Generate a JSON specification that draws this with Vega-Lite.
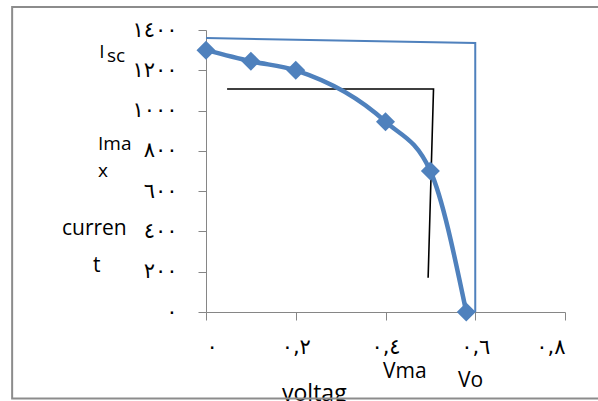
{
  "$schema": "https://vega.github.io/schema/vega-lite/v6.json",
  "width": 359,
  "height": 282,
  "autosize": {"type": "none"},
  "padding": {"left": 206, "top": 30, "right": 33, "bottom": 89},
  "background": "white",
  "config": {
    "view": {"stroke": null},
    "axis": {
      "grid": false,
      "domainColor": "#868686",
      "tickColor": "#868686",
      "tickSize": 8,
      "labelFont": "DejaVu Sans",
      "labelFontSize": 21,
      "labelColor": "#000000",
      "title": null
    }
  },
  "datasets": {
    "curve": [
      {"voltage": 0.0, "current": 1300},
      {"voltage": 0.1, "current": 1245},
      {"voltage": 0.2, "current": 1200},
      {"voltage": 0.4, "current": 945},
      {"voltage": 0.5, "current": 700},
      {"voltage": 0.58, "current": 0}
    ],
    "isc_voc": [
      {"step": 1, "voltage": 0.0, "current": 1360},
      {"step": 2, "voltage": 0.6, "current": 1336},
      {"step": 3, "voltage": 0.6, "current": 0}
    ],
    "max_power": [
      {"step": 1, "voltage": 0.047, "current": 1107},
      {"step": 2, "voltage": 0.507, "current": 1107},
      {"step": 3, "voltage": 0.495, "current": 170}
    ],
    "frame": [
      {"voltage": -0.432, "voltage_end": 0.95, "current": 1514, "current_end": -429}
    ],
    "notes_small": [
      {"text": "I", "voltage": -0.238, "current": 1259},
      {"text": "sc", "voltage": -0.2206, "current": 1241},
      {"text": "Ima", "voltage": -0.2407, "current": 804},
      {"text": "x", "voltage": -0.2407, "current": 670}
    ],
    "notes_large": [
      {"text": "curren", "voltage": -0.321, "current": 382},
      {"text": "t", "voltage": -0.2518, "current": 199},
      {"text": "Vma", "voltage": 0.3944, "current": -328},
      {"text": "Vo", "voltage": 0.5616, "current": -372}
    ],
    "notes_axis": [
      {"text": "voltag", "voltage": 0.1694, "current": -440}
    ]
  },
  "encoding": {
    "x": {
      "field": "voltage", "type": "quantitative",
      "scale": {"domain": [0, 0.8], "nice": false},
      "axis": {
        "values": [0, 0.2, 0.4, 0.6, 0.8],
        "labelPadding": 16,
        "labelExpr": "round(datum.value*10) == 0 ? '٠' : round(datum.value*10) == 2 ? '٠,٢' : round(datum.value*10) == 4 ? '٠,٤' : round(datum.value*10) == 6 ? '٠,٦' : '٠,٨'"
      }
    },
    "y": {
      "field": "current", "type": "quantitative",
      "scale": {"domain": [0, 1400], "nice": false},
      "axis": {
        "values": [0, 200, 400, 600, 800, 1000, 1200, 1400],
        "labelPadding": 21,
        "labelExpr": "datum.value == 0 ? '٠' : datum.value == 200 ? '٢٠٠' : datum.value == 400 ? '٤٠٠' : datum.value == 600 ? '٦٠٠' : datum.value == 800 ? '٨٠٠' : datum.value == 1000 ? '١٠٠٠' : datum.value == 1200 ? '١٢٠٠' : '١٤٠٠'"
      }
    }
  },
  "layer": [
    {
      "data": {"name": "isc_voc"},
      "mark": {"type": "line", "color": "#4F81BD", "strokeWidth": 2},
      "encoding": {"order": {"field": "step"}}
    },
    {
      "data": {"name": "max_power"},
      "mark": {"type": "line", "color": "#000000", "strokeWidth": 1.6},
      "encoding": {"order": {"field": "step"}}
    },
    {
      "data": {"name": "curve"},
      "mark": {"type": "line", "color": "#4F81BD", "strokeWidth": 4.5, "interpolate": "monotone"},
      "encoding": {}
    },
    {
      "data": {"name": "curve"},
      "mark": {"type": "point", "shape": "diamond", "filled": true, "opacity": 1, "color": "#4F81BD", "size": 360}
    },
    {
      "data": {"name": "notes_small"},
      "mark": {"type": "text", "align": "left", "baseline": "alphabetic", "font": "Open Sans", "fontSize": 19, "color": "#000000"},
      "encoding": {"text": {"field": "text"}}
    },
    {
      "data": {"name": "notes_large"},
      "mark": {"type": "text", "align": "left", "baseline": "alphabetic", "font": "Open Sans", "fontSize": 21, "color": "#000000"},
      "encoding": {"text": {"field": "text"}}
    },
    {
      "data": {"name": "notes_axis"},
      "mark": {"type": "text", "align": "left", "baseline": "alphabetic", "font": "Open Sans", "fontSize": 23, "color": "#000000"},
      "encoding": {"text": {"field": "text"}}
    },
    {
      "data": {"name": "frame"},
      "mark": {"type": "rect", "fill": null, "fillOpacity": 0, "stroke": "#8c8c8c", "strokeWidth": 2},
      "encoding": {
        "x2": {"field": "voltage_end"},
        "y2": {"field": "current_end"}
      }
    }
  ]
}
